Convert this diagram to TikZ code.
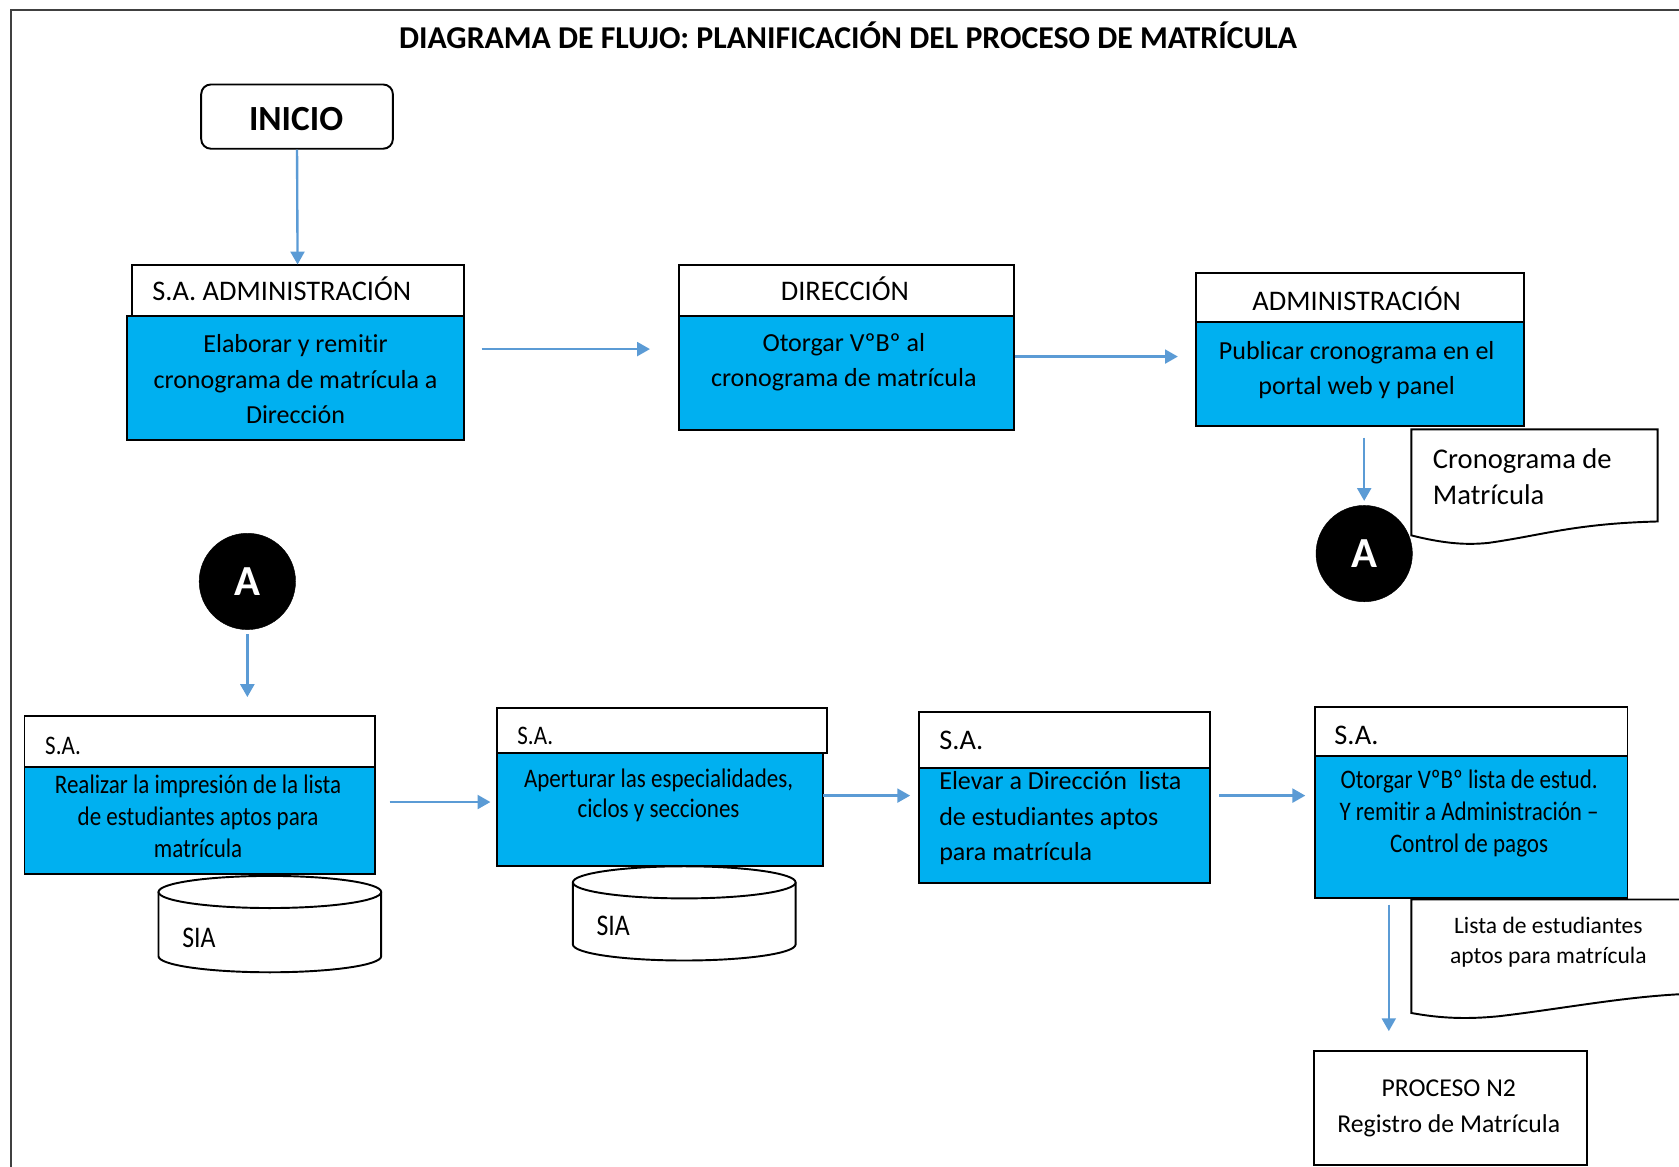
\documentclass[tikz,border=0pt]{standalone}
\usepackage{fontspec}
\setmainfont{Carlito}[Ligatures={NoCommon}]
\newfontfamily\narrowfont[FakeStretch=0.86,Ligatures={NoCommon}]{Carlito}
\usetikzlibrary{arrows.meta}
\definecolor{boxblue}{HTML}{00B0F0}
\definecolor{arrowblue}{HTML}{5B9BD5}
\definecolor{framegray}{HTML}{404040}
\begin{document}
\begin{tikzpicture}[x=1pt,y=-1pt,
  hdr/.style={draw=black,line width=1.8pt,fill=white,anchor=north west,inner sep=0pt},
  bodybox/.style={draw=black,line width=1.8pt,fill=boxblue,anchor=north west,inner sep=0pt},
  flow/.style={draw=arrowblue,line width=2.2pt,-{Triangle[width=13pt,length=12pt]}},
  lbl/.style={inner sep=0pt,align=center},
  hfont/.style={font=\fontsize{26.5}{32}\selectfont},
  bfont/.style={font=\fontsize{24.3}{33}\selectfont},
  nfont/.style={font=\narrowfont\fontsize{25}{30}\selectfont},
  conn/.style={circle,fill=black,draw=black,minimum size=90pt,inner sep=0pt,text=white,font=\bfseries\fontsize{40}{40}\selectfont},
  docshape/.style={draw=black,line width=1.8pt,fill=white},
  cyl/.style={draw=black,line width=1.8pt,fill=white}
]
\useasboundingbox (0,0) rectangle (1568,1089);
% frame
\draw[framegray,line width=2pt] (10,1100) -- (10,9) -- (1600,9);
% title
\node[lbl,anchor=base,font=\bfseries\fontsize{29.7}{34}\selectfont] (title) at (792,45.5) {DIAGRAMA DE FLUJO: PLANIFICACIÓN DEL PROCESO DE MATRÍCULA};
% inicio
\node[draw=black,line width=1.8pt,rounded corners=9pt,anchor=north west,minimum width=179pt,minimum height=60pt,inner sep=0pt] (inicio) at (187,78) {};
\node[lbl,anchor=base,font=\bfseries\fontsize{33}{36}\selectfont] (tinicio) at (276.5,121.5) {INICIO};

% row 1 boxes
\node[bodybox,minimum width=314pt,minimum height=116pt] (b1) at (118,294) {};
\node[hdr,minimum width=310pt,minimum height=47pt] (h1) at (122,247) {};
\node[lbl,hfont,anchor=base west] (th1) at (142,281) {S.A. ADMINISTRACIÓN};
\node[lbl,bfont] (tb1) at (276,354) {Elaborar y remitir\\cronograma de matrícula a\\Dirección};

\node[bodybox,minimum width=313pt,minimum height=107pt] (b2) at (633,294) {};
\node[hdr,minimum width=313pt,minimum height=47pt] (h2) at (633,247) {};
\node[lbl,hfont,anchor=base] (th2) at (789,281) {DIRECCIÓN};
\node[lbl,bfont] (tb2) at (788,338.5) {Otorgar VºBº al\\cronograma de matrícula};

\node[bodybox,minimum width=306pt,minimum height=97pt] (b3) at (1116,300) {};
\node[hdr,minimum width=306pt,minimum height=46pt] (h3) at (1116,254) {};
\node[lbl,hfont,anchor=base] (th3) at (1267,290) {ADMINISTRACIÓN};
\node[lbl,bfont] (tb3) at (1267,345.5) {Publicar cronograma en el\\portal web y panel};

% document 1
\draw[docshape] (1318,401) -- (1548,401) -- (1548,487)
  .. controls (1470,489) and (1440,500) .. (1390,507)
  .. controls (1370,509) and (1350,508) .. (1318,500) -- cycle;
\node[lbl,anchor=west,align=left,font=\fontsize{26.7}{34}\selectfont] (tdoc1) at (1338,445) {Cronograma de\\Matrícula};

% connector A (top right)
\node[conn] (a1) at (1274,517) {A};

% row 2
\node[conn] (a2) at (231,543) {A};

\node[bodybox,minimum width=327pt,minimum height=100pt] (b4) at (22,715) {};
\node[hdr,minimum width=327pt,minimum height=47pt] (h4) at (22,668) {};
\node[lbl,nfont,anchor=base west] (th4) at (42,705) {S.A.};
\node[lbl,nfont] (tb4) at (185,762) {Realizar la impresión de la lista\\de estudiantes aptos para\\matrícula};

\node[bodybox,minimum width=305pt,minimum height=106pt] (b5) at (463,702) {};
\node[hdr,minimum width=308pt,minimum height=42pt] (h5) at (463,660) {};
\node[lbl,nfont,anchor=base west] (th5) at (483,695) {S.A.};
\node[lbl,font=\narrowfont\fontsize{25}{28}\selectfont] (tb5) at (615,743) {Aperturar las especialidades,\\ciclos y secciones};

\node[bodybox,minimum width=272pt,minimum height=108pt] (b6) at (857,716) {};
\node[hdr,minimum width=272pt,minimum height=52pt] (h6) at (857,664) {};
\node[lbl,hfont,anchor=base west] (th6) at (877,700) {S.A.};
\node[lbl,bfont,anchor=west,align=left] (tb6) at (877,764) {Elevar a Dirección\ \ lista\\de estudiantes aptos\\para matrícula};

\node[bodybox,minimum width=292pt,minimum height=133pt] (b7) at (1227,705) {};
\node[hdr,minimum width=292pt,minimum height=46pt] (h7) at (1227,659) {};
\node[lbl,hfont,anchor=base west] (th7) at (1246,695) {S.A.};
\node[lbl,nfont] (tb7) at (1372,760) {Otorgar VºBº lista de estud.\\Y remitir a Administración –\\Control de pagos};

% cylinders
\draw[cyl] (148,833) -- (148,893) arc (180:0:104 and 15) -- (356,833);
\draw[cyl] (252,833) ellipse (104 and 15);
\node[lbl,anchor=west,font=\narrowfont\fontsize{28}{30}\selectfont] (sia1) at (170,876) {SIA};

\draw[cyl] (535,824) -- (535,882) arc (180:0:104 and 15) -- (743,824);
\draw[cyl] (639,824) ellipse (104 and 15);
\node[lbl,anchor=west,font=\narrowfont\fontsize{28}{30}\selectfont] (sia2) at (557,865) {SIA};

% document 2
\draw[docshape] (1318,840) -- (1640,840) -- (1640,928) -- (1580,928)
  .. controls (1520,930) and (1460,942) .. (1400,949)
  .. controls (1370,952) and (1345,951) .. (1318,946) -- cycle;
\node[lbl,font=\fontsize{22}{28}\selectfont] (tdoc2) at (1446,880) {Lista de estudiantes\\aptos para matrícula};

% proceso
\node[draw=black,line width=1.8pt,anchor=north west,minimum width=255pt,minimum height=106pt,inner sep=0pt] (proc) at (1226,981) {};
\node[lbl,font=\fontsize{24}{33}\selectfont] (tproc) at (1353,1035) {PROCESO N2\\Registro de Matrícula};

% connectors
\draw[flow] (inicio.south) -- (h1.north);
\draw[flow,shorten <=16pt,shorten >=26pt] (b1.east |- 0,326) -- (b2.west |- 0,326);
\draw[flow,shorten >=16pt] (b2.east |- 0,333) -- (b3.west |- 0,333);
\draw[flow,shorten <=10pt,shorten >=4pt] (a1.north |- b3.south) -- (a1.north);
\draw[flow,shorten <=4pt,shorten >=17pt] (a2.south) -- (a2.south |- h4.north);
\draw[flow,shorten <=13pt,shorten >=5pt] (b4.east |- 0,749) -- (b5.west |- 0,749);
\draw[flow,shorten <=-1pt,shorten >=7pt] (b5.east |- 0,743) -- (b6.west |- 0,743);
\draw[flow,shorten <=8pt,shorten >=8pt] (b6.east |- 0,743) -- (b7.west |- 0,743);
\draw[flow,shorten <=5pt,shorten >=18pt] (1297,0 |- b7.south) -- (1297,0 |- proc.north);
\end{tikzpicture}
\end{document}
